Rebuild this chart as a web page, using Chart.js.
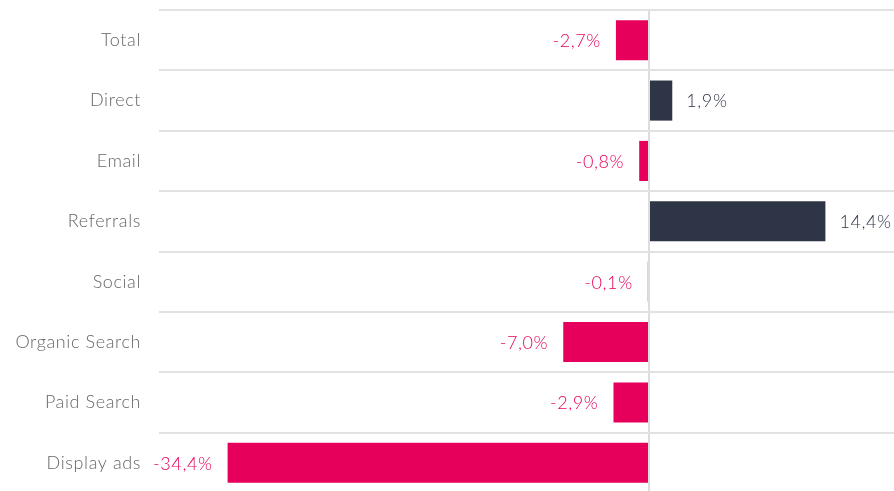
<!DOCTYPE html>
<html>
<head>
<meta charset="utf-8">
<script src="https://cdn.jsdelivr.net/npm/chart.js@4/dist/chart.umd.min.js"></script>
<style>
html,body{margin:0;padding:0;background:#fff;overflow:hidden;}
#wrap{width:894px;height:493px;position:relative;}
</style>
</head>
<body>
<div id="wrap"><canvas id="c" width="894" height="493"></canvas></div>
<script>
const categories = ["Total","Direct","Email","Referrals","Social","Organic Search","Paid Search","Display ads"];
const changeValues = [-2.7, 1.9, -0.8, 14.4, -0.1, -7.0, -2.9, -34.4];
const axisMin = -40;
const axisMax = 20;

const PINK = "#e6005c";
const DARK = "#2e3546";
const FONT = "Lato, 'Open Sans', sans-serif";

const spacing = {
  id: "spacing",
  beforeDraw(chart) { chart.ctx.letterSpacing = "0.6px"; }
};

const valueLabels = {
  id: "valueLabels",
  afterDatasetsDraw(chart) {
    const ctx = chart.ctx;
    const meta = chart.getDatasetMeta(0);
    ctx.save();
    ctx.letterSpacing = "0.6px";
    ctx.font = "300 18px " + FONT;
    ctx.textBaseline = "middle";
    meta.data.forEach((bar, i) => {
      const v = changeValues[i];
      const txt = v.toFixed(1).replace(".", ",") + "%";
      const left = Math.min(bar.x, bar.base);
      const right = Math.max(bar.x, bar.base);
      if (v < 0) {
        ctx.fillStyle = PINK;
        ctx.textAlign = "right";
        ctx.fillText(txt, left - 15, bar.y + 1);
      } else {
        ctx.fillStyle = DARK;
        ctx.textAlign = "left";
        ctx.fillText(txt, right + 14, bar.y + 1);
      }
    });
    ctx.restore();
  }
};

new Chart(document.getElementById("c"), {
  type: "bar",
  data: {
    labels: categories,
    datasets: [{
      data: changeValues,
      backgroundColor: changeValues.map(v => v < 0 ? PINK : DARK),
      borderWidth: 0,
      barPercentage: 0.664,
      categoryPercentage: 1.0
    }]
  },
  options: {
    indexAxis: "y",
    responsive: false,
    animation: false,
    devicePixelRatio: 1,
    layout: { padding: { top: 10, right: 0, bottom: 0, left: 0 } },
    plugins: { legend: { display: false }, tooltip: { enabled: false } },
    scales: {
      x: {
        min: axisMin,
        max: axisMax,
        ticks: { display: false, stepSize: 10 },
        border: { display: false },
        afterFit: s => { s.height = 0; s.paddingLeft = 0; s.paddingRight = 0; },
        grid: {
          drawTicks: false,
          color: c => c.tick && c.tick.value === 0 ? "#dddddd" : "rgba(0,0,0,0)",
          lineWidth: c => c.tick && c.tick.value === 0 ? 2 : 0
        }
      },
      y: {
        border: { display: false },
        afterFit: s => { s.width = 159; s.paddingTop = 0; s.paddingBottom = 0; },
        grid: {
          offset: true,
          drawTicks: false,
          color: "#e2e2e2",
          lineWidth: 2
        },
        ticks: {
          color: "#666666",
          padding: 18,
          font: { family: FONT, size: 18, weight: 300 }
        }
      }
    }
  },
  plugins: [spacing, valueLabels]
});
</script>
</body>
</html>
